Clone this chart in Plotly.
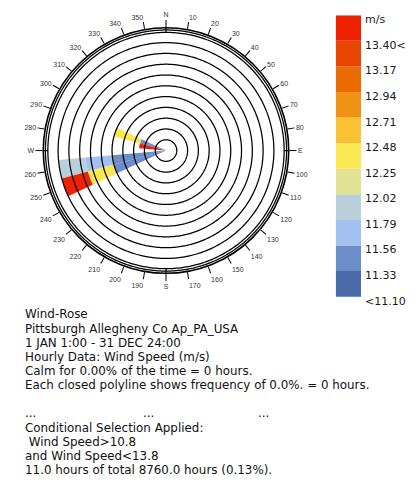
import numpy as np
import plotly.graph_objects as go

# ---------------- data ----------------
DIRECTIONS = [250, 260, 280, 290]      # petal centre, degrees clockwise from north
SECTOR_WIDTH = 10                      # degrees per direction bin

SPEED_BIN_LABELS = ["<11.10", "11.33", "11.56", "11.79", "12.02", "12.25",
                    "12.48", "12.71", "12.94", "13.17", "13.40<"]
SPEED_BIN_COLORS = ["#4a6aaa", "#6d8dc8", "#a2c0f0", "#b9cfd9", "#e1e293",
                    "#f8e852", "#f8c232", "#f09314", "#ec6c04", "#e84402",
                    "#ee2200"]
UNIT_LABEL = "m/s"

# hours per direction (same order as DIRECTIONS) for each speed bin
hours_lt_11_10 = [0, 0, 0, 0]
hours_11_33 = [2, 2, 0, 1]
hours_11_56 = [0, 1, 0, 0]
hours_11_79 = [0, 1, 0, 0]
hours_12_02 = [0, 0, 0, 0]
hours_12_25 = [1, 0, 0, 1]
hours_12_48 = [0, 0, 0, 0]
hours_12_71 = [0, 0, 0, 0]
hours_12_94 = [0, 0, 0, 0]
hours_13_17 = [0, 0, 0, 0]
hours_13_40 = [1, 0, 1, 0]
HOURS_BY_BIN = [hours_lt_11_10, hours_11_33, hours_11_56, hours_11_79,
                hours_12_02, hours_12_25, hours_12_48, hours_12_71,
                hours_12_94, hours_13_17, hours_13_40]

RING_STEP = 0.4          # hours per closed polyline
N_RINGS = 10
OUTER_RINGS = [4.38, 4.47]
R_MAX = 4.55

ANGLE_TICKS = list(range(0, 360, 10))
CARDINALS = {0: "N", 90: "E", 180: "S", 270: "W"}
ANGLE_TEXT = [CARDINALS.get(a, str(a)) for a in ANGLE_TICKS]

TEXT_LINES_1 = ["Wind-Rose",
                "Pittsburgh Allegheny Co Ap_PA_USA",
                "1 JAN 1:00 - 31 DEC 24:00",
                "Hourly Data: Wind Speed (m/s)",
                "Calm for 0.00% of the time = 0 hours.",
                "Each closed polyline shows frequency of 0.0%. = 0 hours."]
TEXT_LINES_2 = ["Conditional Selection Applied:",
                "\u00a0Wind Speed>10.8",
                "and Wind Speed<13.8",
                "11.0 hours of total 8760.0 hours (0.13%)."]

# ---------------- figure ----------------
OFF = 8                       # page body margin of the browser
W, H = 419 - OFF, 497 - OFF
CX, CY, RPX = 166 - OFF, 150 - OFF, 124


def px_x(x):
    return (x - OFF) / W


def px_y(y):
    return 1 - (y - OFF) / H


fig = go.Figure()

# petals (stacked by speed bin)
for hours, color, label in zip(HOURS_BY_BIN, SPEED_BIN_COLORS, SPEED_BIN_LABELS):
    fig.add_trace(go.Barpolar(
        r=hours, theta=DIRECTIONS, width=[SECTOR_WIDTH] * len(DIRECTIONS),
        marker=dict(color=color, line=dict(width=0)),
        name=label, showlegend=False, hoverinfo="skip"))

# closed polylines (drawn above petals)
ring_theta = np.arange(0, 361, 1)
ring_values = [RING_STEP * k for k in range(1, N_RINGS + 1)] + OUTER_RINGS
for rv in ring_values:
    fig.add_trace(go.Scatterpolar(
        r=[rv] * len(ring_theta), theta=ring_theta, mode="lines",
        line=dict(color="black", width=1.25), showlegend=False,
        hoverinfo="skip"))

# long cardinal ticks
card_r, card_t = [], []
for a in CARDINALS:
    card_r += [OUTER_RINGS[0], 5.0, None]
    card_t += [a, a, None]
fig.add_trace(go.Scatterpolar(
    r=card_r, theta=card_t, mode="lines", cliponaxis=False,
    line=dict(color="black", width=1.2), showlegend=False, hoverinfo="skip"))

# legend colour column
n_bins = len(SPEED_BIN_COLORS)
fig.add_trace(go.Bar(
    x=[0] * n_bins, y=[1] * n_bins, base=list(range(n_bins)), width=1,
    marker=dict(color=SPEED_BIN_COLORS, line=dict(width=0)),
    xaxis="x2", yaxis="y2", showlegend=False, hoverinfo="skip"))

legend_tick_vals = [i - 0.16 for i in range(n_bins + 1)]
legend_tick_text = SPEED_BIN_LABELS + [UNIT_LABEL]

annotations = []
FONT = dict(family="DejaVu Sans", size=11.9, color="#111111")
LINE0, DY = 315.5, 14.3
for k, t in enumerate(TEXT_LINES_1):
    annotations.append(dict(text=t, x=px_x(23), y=px_y(LINE0 + DY * k),
                            xref="paper", yref="paper", xanchor="left",
                            yanchor="middle", showarrow=False, font=FONT))
for xp in [23, 141, 256]:
    annotations.append(dict(text="...", x=px_x(xp), y=px_y(LINE0 + DY * 7),
                            xref="paper", yref="paper", xanchor="left",
                            yanchor="middle", showarrow=False, font=FONT))
for k, t in enumerate(TEXT_LINES_2):
    annotations.append(dict(text=t, x=px_x(23), y=px_y(LINE0 + DY * (8 + k)),
                            xref="paper", yref="paper", xanchor="left",
                            yanchor="middle", showarrow=False, font=FONT))

BAR_TOP, BAR_BOT = 13.3, 297.6
unit_px = (BAR_BOT - BAR_TOP) / n_bins

fig.update_layout(
    width=W, height=H, autosize=False,
    margin=dict(l=0, r=0, t=0, b=0),
    paper_bgcolor="white", plot_bgcolor="white",
    showlegend=False,
    polar=dict(
        domain=dict(x=[(CX - RPX) / W, (CX + RPX) / W],
                    y=[1 - (CY + RPX) / H, 1 - (CY - RPX) / H]),
        bgcolor="white",
        barmode="stack", bargap=0,
        angularaxis=dict(direction="clockwise", rotation=90,
                         tickmode="array", tickvals=ANGLE_TICKS,
                         ticktext=ANGLE_TEXT, ticks="outside", ticklen=7,
                         tickwidth=1, tickcolor="black", showline=True,
                         linecolor="black", linewidth=1.6, showgrid=False,
                         tickfont=dict(family="Liberation Sans", size=7,
                                       color="#333333")),
        radialaxis=dict(range=[0, R_MAX], showgrid=False, showline=False,
                        showticklabels=False, ticks=""),
    ),
    xaxis2=dict(domain=[px_x(335.7), px_x(361)], range=[-0.5, 0.5],
                visible=False, anchor="y2", fixedrange=True),
    yaxis2=dict(domain=[px_y(BAR_BOT + 0.3 * unit_px), px_y(BAR_TOP)],
                range=[-0.3, n_bins], anchor="x2", side="right",
                showgrid=False, zeroline=False, showline=False, ticks="",
                tickmode="array", tickvals=legend_tick_vals,
                ticktext=legend_tick_text, ticklabelstandoff=3,
                tickfont=dict(family="DejaVu Sans", size=11, color="#1a1a1a"),
                fixedrange=True),
    annotations=annotations,
)

fig.write_html("out.html")
